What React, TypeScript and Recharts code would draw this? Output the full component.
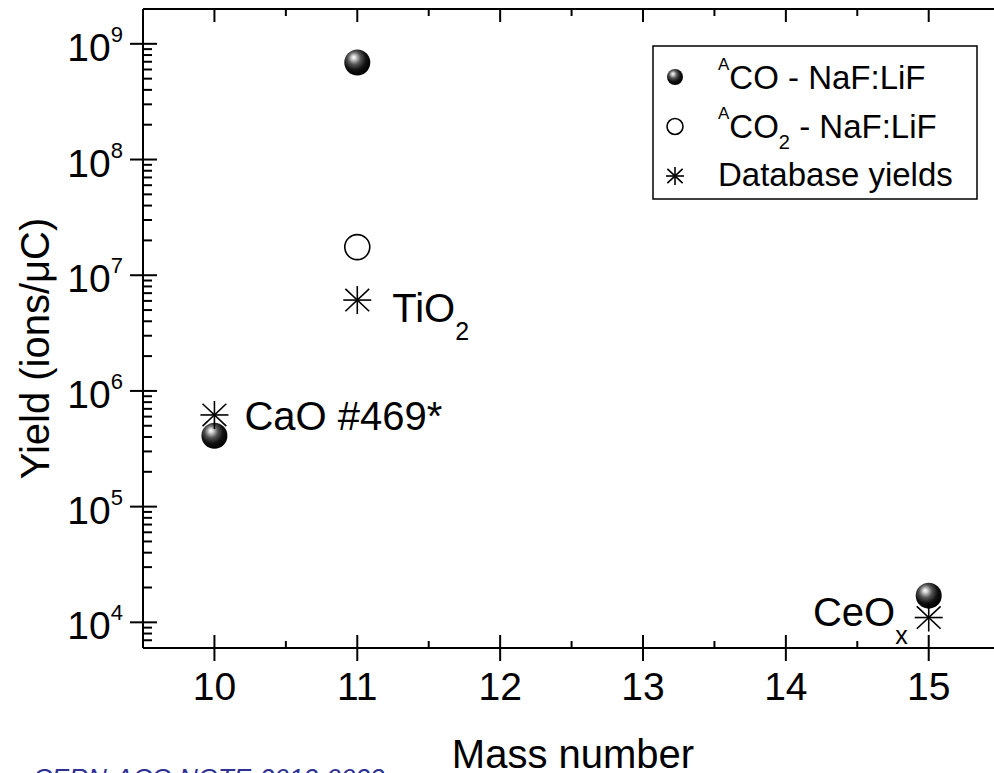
import React from 'react';
import { ScatterChart, Scatter, XAxis, YAxis, Legend } from 'recharts';

// mass number (x) vs yield in ions/uC (log y)
const coMass = [10, 11, 15];
const coYield = [4.1e5, 6.9e8, 1.7e4];
const co2Mass = [11];
const co2Yield = [1.75e7];
const dbMass = [10, 11, 15];
const dbYield = [6.2e5, 6.1e6, 1.1e4];
const dbLabels = ['CaO #469*', 'TiO_2', 'CeO_x'];

const xTicks = [10, 11, 12, 13, 14, 15];
const xMinor = [10.5, 11.5, 12.5, 13.5, 14.5];
const yExps = [4, 5, 6, 7, 8, 9];

const legendItems = [
  { sup: 'A', main: 'CO', sub: '', rest: ' - NaF:LiF', marker: 'ball' },
  { sup: 'A', main: 'CO', sub: '2', rest: ' - NaF:LiF', marker: 'ring' },
  { sup: '', main: 'Database yields', sub: '', rest: '', marker: 'star' },
];

const FONT = '"Liberation Sans", Arial, sans-serif';
const X_DOMAIN = [9.5, 15.548];
const Y_DOMAIN = [6000, 2e9];

const coData = coMass.map((m, i) => ({ mass: m, yield: coYield[i] }));
const co2Data = co2Mass.map((m, i) => ({ mass: m, yield: co2Yield[i] }));
const dbData = dbMass.map((m, i) => ({ mass: m, yield: dbYield[i], label: dbLabels[i] }));

const yMajor = yExps.map((e) => Math.pow(10, e));
const yMinor: number[] = [];
for (let e = 3; e <= 9; e++) {
  for (let m = 2; m <= 9; m++) {
    const v = m * Math.pow(10, e);
    if (v > Y_DOMAIN[0] && v < Y_DOMAIN[1]) yMinor.push(v);
  }
}
const yAll = [...yMajor, ...yMinor].sort((a, b) => a - b);
const xAll = [...xTicks, ...xMinor].sort((a, b) => a - b);

const isMajorY = (v: number) => yMajor.some((t) => Math.abs(t - v) / t < 1e-9);
const isMajorX = (v: number) => xTicks.includes(v);

// where the annotation text sits relative to its point
const labelPos: Record<string, { dx: number; dy: number; anchor: string }> = {
  'CaO #469*': { dx: 30, dy: 15, anchor: 'start' },
  'TiO_2': { dx: 35, dy: 22, anchor: 'start' },
  'CeO_x': { dx: -21, dy: 8, anchor: 'end' },
};

const BallDefs = () => (
  <defs>
    <radialGradient id="ballGrad" cx="0.42" cy="0.38" r="0.62" fx="0.36" fy="0.3">
      <stop offset="0" stopColor="#ffffff" />
      <stop offset="0.12" stopColor="#d8d8d8" />
      <stop offset="0.4" stopColor="#555" />
      <stop offset="0.7" stopColor="#111" />
      <stop offset="1" stopColor="#000" />
    </radialGradient>
  </defs>
);

const Ball = ({ cx, cy, r }: any) => (
  <g>
    <BallDefs />
    <circle cx={cx} cy={cy} r={r} fill="url(#ballGrad)" />
  </g>
);

const Ring = ({ cx, cy, r }: any) => (
  <circle cx={cx} cy={cy} r={r} fill="#fff" stroke="#000" strokeWidth={1.6} />
);

const Star = ({ cx, cy, s }: any) => (
  <g stroke="#000" strokeWidth={1.6}>
    <line x1={cx - s} x2={cx + s} y1={cy} y2={cy} />
    <line x1={cx} x2={cx} y1={cy - s} y2={cy + s} />
    <line x1={cx - s * 0.85} x2={cx + s * 0.85} y1={cy - s * 0.8} y2={cy + s * 0.8} />
    <line x1={cx - s * 0.85} x2={cx + s * 0.85} y1={cy + s * 0.8} y2={cy - s * 0.8} />
  </g>
);

const Formula = ({ x, y, text, anchor }: any) => {
  const [main, sub] = text.split('_');
  return (
    <text x={x} y={y} textAnchor={anchor} fontSize={40} fontFamily={FONT} fill="#000">
      {main}
      {sub && (
        <tspan dy={18} fontSize={25}>
          {sub}
        </tspan>
      )}
    </text>
  );
};

const LeftTick = ({ x, y, payload }: any) => {
  const v = payload.value;
  if (!isMajorY(v)) {
    return <line x1={x} x2={x + 9} y1={y} y2={y} stroke="#000" strokeWidth={2} />;
  }
  const e = Math.round(Math.log10(v));
  return (
    <g>
      <line x1={x - 13} x2={x + 14} y1={y} y2={y} stroke="#000" strokeWidth={2} />
      <text x={x - 20} y={y + 17} textAnchor="end" fontSize={39} fontFamily={FONT} fill="#000">
        10
        <tspan dy={-19} fontSize={22}>
          {e}
        </tspan>
      </text>
    </g>
  );
};

const RightTick = ({ x, y, payload }: any) => {
  const len = isMajorY(payload.value) ? 13 : 8;
  return <line x1={x - len} x2={x} y1={y} y2={y} stroke="#000" strokeWidth={2} />;
};

const BottomTick = ({ x, y, payload }: any) => {
  const v = payload.value;
  if (!isMajorX(v)) {
    return <line x1={x} x2={x} y1={y - 7} y2={y} stroke="#000" strokeWidth={2} />;
  }
  return (
    <g>
      <line x1={x} x2={x} y1={y - 13} y2={y + 13} stroke="#000" strokeWidth={2} />
      <text x={x} y={y + 52} textAnchor="middle" fontSize={39} fontFamily={FONT} fill="#000">
        {v}
      </text>
    </g>
  );
};

const TopTick = ({ x, y, payload }: any) => {
  const len = isMajorX(payload.value) ? 13 : 7;
  return <line x1={x} x2={x} y1={y} y2={y + len} stroke="#000" strokeWidth={2} />;
};

const YTitle = ({ viewBox }: any) => {
  const cx = viewBox.x + 35;
  const cy = viewBox.y + viewBox.height / 2 + 20;
  return (
    <text
      x={cx}
      y={cy}
      transform={`rotate(-90 ${cx} ${cy})`}
      textAnchor="middle"
      dominantBaseline="central"
      fontSize={40}
      fontFamily={FONT}
      fill="#000"
    >
      Yield (ions/μC)
    </text>
  );
};

const XTitle = ({ viewBox }: any) => (
  <text x={573} y={viewBox.y + 120} textAnchor="middle" fontSize={40} fontFamily={FONT} fill="#000">
    Mass number
  </text>
);

const LegendBox = () => (
  <svg width={326} height={155} style={{ display: 'block' }}>
    <BallDefs />
    <rect x={1} y={1} width={324} height={153} fill="#fff" stroke="#000" strokeWidth={1.5} />
    {legendItems.map((it, i) => {
      const my = 32 + i * 49.5;
      const by = 44 + i * 48.5;
      return (
        <g key={i}>
          {it.marker === 'ball' && <Ball cx={23} cy={my} r={8} />}
          {it.marker === 'ring' && <Ring cx={23} cy={my} r={8} />}
          {it.marker === 'star' && <Star cx={23} cy={my} s={9} />}
          <text x={66} y={by} fontSize={33} fontFamily={FONT} fill="#000">
            {it.sup && (
              <tspan dy={-19} fontSize={17}>
                {it.sup}
              </tspan>
            )}
            <tspan dy={it.sup ? 19 : 0}>{it.main}</tspan>
            {it.sub && (
              <tspan dy={11} fontSize={20}>
                {it.sub}
              </tspan>
            )}
            {it.rest && <tspan dy={it.sub ? -11 : 0}>{it.rest}</tspan>}
          </text>
        </g>
      );
    })}
  </svg>
);

export default function App() {
  const axisLine = { stroke: '#000', strokeWidth: 2 };
  return (
    <div
      style={{
        position: 'fixed',
        left: 0,
        top: 0,
        width: 994,
        height: 773,
        overflow: 'hidden',
        background: '#fff',
      }}
    >
      <ScatterChart width={1008} height={773} margin={{ top: 0, right: 0, bottom: 0, left: 0 }}>
        <XAxis
          xAxisId="b"
          type="number"
          dataKey="mass"
          orientation="bottom"
          height={125}
          domain={X_DOMAIN}
          allowDataOverflow
          ticks={xAll}
          interval={0}
          tickSize={0}
          tickMargin={0}
          tickLine={false}
          axisLine={axisLine}
          tick={BottomTick}
          label={XTitle}
        />
        <XAxis
          xAxisId="t"
          type="number"
          dataKey="mass"
          orientation="top"
          height={9}
          domain={X_DOMAIN}
          allowDataOverflow
          ticks={xAll}
          interval={0}
          tickSize={0}
          tickMargin={0}
          tickLine={false}
          axisLine={axisLine}
          tick={TopTick}
        />
        <YAxis
          yAxisId="l"
          type="number"
          dataKey="yield"
          scale="log"
          width={143}
          domain={Y_DOMAIN}
          allowDataOverflow
          ticks={yAll}
          interval={0}
          tickSize={0}
          tickMargin={0}
          tickLine={false}
          axisLine={axisLine}
          tick={LeftTick}
          label={YTitle}
        />
        <YAxis
          yAxisId="r"
          type="number"
          dataKey="yield"
          scale="log"
          orientation="right"
          width={1}
          domain={Y_DOMAIN}
          allowDataOverflow
          ticks={yAll}
          interval={0}
          tickSize={0}
          tickMargin={0}
          tickLine={false}
          axisLine={axisLine}
          tick={RightTick}
        />
        <Legend
          layout="horizontal"
          verticalAlign="middle"
          align="center"
          wrapperStyle={{ left: 652, top: 45, width: 326, height: 155 }}
          content={() => <LegendBox />}
        />
        <Scatter
          name="ACO - NaF:LiF"
          data={coData}
          xAxisId="b"
          yAxisId="l"
          isAnimationActive={false}
          shape={(p: any) => <Ball cx={p.cx} cy={p.cy} r={13} />}
        />
        <Scatter
          name="ACO2 - NaF:LiF"
          data={co2Data}
          xAxisId="b"
          yAxisId="l"
          isAnimationActive={false}
          shape={(p: any) => <Ring cx={p.cx} cy={p.cy} r={12.5} />}
        />
        <Scatter
          name="Database yields"
          data={dbData}
          xAxisId="b"
          yAxisId="l"
          isAnimationActive={false}
          shape={(p: any) => {
            const pos = labelPos[p.payload.label];
            return (
              <g>
                <Star cx={p.cx} cy={p.cy} s={14} />
                <Formula x={p.cx + pos.dx} y={p.cy + pos.dy} text={p.payload.label} anchor={pos.anchor} />
              </g>
            );
          }}
        />
      </ScatterChart>
      <div
        style={{
          position: 'absolute',
          left: 33,
          top: 765,
          fontSize: 26,
          lineHeight: '26px',
          fontStyle: 'italic',
          color: '#2e3192',
          fontFamily: FONT,
          whiteSpace: 'nowrap',
        }}
      >
        CERN-ACC-NOTE-2013-0033
      </div>
    </div>
  );
}
